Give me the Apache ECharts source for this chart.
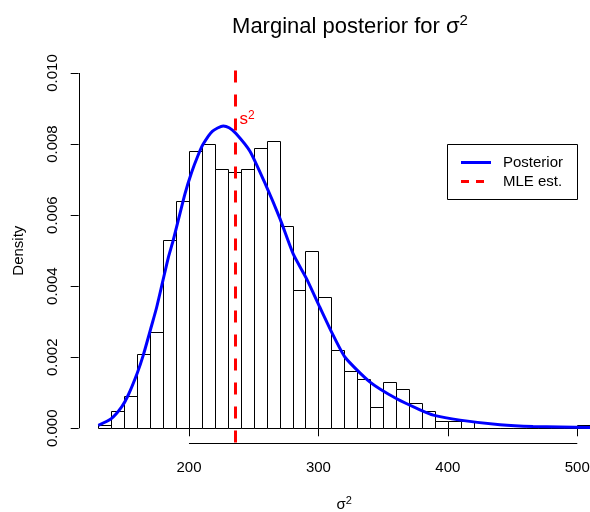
<!DOCTYPE html>
<html><head><meta charset="utf-8">
<script src="https://cdn.jsdelivr.net/npm/echarts@6/dist/echarts.min.js"></script>
<style>html,body{margin:0;padding:0;background:#fff}#c{width:590px;height:512px}</style>
</head><body><div id="c"></div>
<script>
// ---- data ----
const binEdges = [130,140,150,160,170,180,190,200,210,220,230,240,250,260,270,280,290,300,310,320,330,340,350,360,370,380,390,400,410,420,430,440,450,460,470,480,490,500,510];
const densities = [0.0001,0.0005,0.0009,0.0021,0.0027,0.0053,0.0064,0.0078,0.0080,0.0073,0.0072,0.0073,0.0079,0.0081,0.0057,0.0039,0.0050,0.0037,0.0022,0.0016,0.0014,0.0006,0.0013,0.0011,0.0007,0.0005,0.0002,0.0002,0.0002,0,0,0,0,0,0,0,0,0.0001];
const curveX = [130,140,148,153,160,164.7,171.2,175,179.5,184,187.9,196.9,202,207.2,211,218,226.5,231,236.3,247.1,258.7,270.3,280.6,291,301.2,310.3,320.6,339.9,360.5,378.5,388.8,409.4,440.3,465.8,510];
const curveY = [0.00008,0.00027,0.0006,0.00093,0.00155,0.00206,0.0029,0.0034,0.0041,0.0048,0.0053,0.0066,0.0072,0.0077,0.0080,0.00836,0.00851,0.00846,0.0083,0.0078,0.0069,0.0059,0.0049,0.0042,0.0034,0.0027,0.0020,0.0013,0.00083,0.00052,0.00037,0.00023,0.0001,0.00005,0.00002];
const mleEst = 236;
const s2LabelY = 0.0087;
const xTicks = [200,300,400,500];
const yTicks = [0,0.002,0.004,0.006,0.008,0.010];
const yTickLabels = ['0.000','0.002','0.004','0.006','0.008','0.010'];
const legendLabels = ['Posterior','MLE est.'];

// ---- chart ----
const FONT = "'Liberation Sans', Arial, Helvetica, sans-serif";
const xMin = 114.8, xMax = 525.2, yMin = -0.0004, yMax = 0.0104;
const chart = echarts.init(document.getElementById('c'), null, {renderer:'canvas'});
const histData = densities.map((d,i)=>[binEdges[i], binEdges[i+1], d]);
const curveData = curveX.map((x,i)=>[x, curveY[i]]);

const option = {
  animation:false,
  backgroundColor:'#ffffff',
  textStyle:{fontFamily:FONT},
  title:{
    text:'{t|Marginal posterior for σ}{s|2}',
    left:345, top:8, textAlign:'center',
    textStyle:{fontFamily:FONT, fontWeight:'normal', rich:{
      t:{fontSize:22, fontFamily:FONT, color:'#000', lineHeight:27},
      s:{fontSize:15, fontFamily:FONT, color:'#000', verticalAlign:'top', lineHeight:16}
    }}
  },
  grid:{left:78.7, top:58.8, width:531.2, height:383.7, show:false, containLabel:false, outerBoundsMode:'none'},
  xAxis:{
    type:'value', min:xMin, max:xMax,
    axisLine:{show:false}, splitLine:{show:false},
    axisTick:{show:true, customValues:xTicks, length:8, lineStyle:{color:'#000', width:1}},
    axisLabel:{show:true, customValues:xTicks, fontSize:15, color:'#000', margin:18, fontFamily:FONT},
    name:'{a|σ}{b|2}', nameLocation:'middle', nameGap:53,
    nameTextStyle:{color:'#000', rich:{
      a:{fontSize:15, fontFamily:FONT, color:'#000', lineHeight:18},
      b:{fontSize:11, fontFamily:FONT, color:'#000', verticalAlign:'top', lineHeight:12}
    }}
  },
  yAxis:{
    type:'value', min:yMin, max:yMax,
    axisLine:{show:false}, splitLine:{show:false},
    axisTick:{show:true, customValues:yTicks, length:8, lineStyle:{color:'#000', width:1}},
    axisLabel:{show:true, customValues:yTicks, rotate:90, fontSize:15, color:'#000', margin:18, fontFamily:FONT,
      formatter:(v)=>{let best=0;for(let i=0;i<yTicks.length;i++){if(Math.abs(yTicks[i]-v)<Math.abs(yTicks[best]-v))best=i;}return yTickLabels[best];}},
    name:'Density', nameLocation:'middle', nameRotate:90, nameGap:52,
    nameTextStyle:{fontSize:15, color:'#000', fontFamily:FONT}
  },
  series:[
    {
      type:'custom', name:'hist', z:1, data:histData,
      encode:{x:[0,1], y:2},
      renderItem:(params, api)=>{
        const p0 = api.coord([api.value(0), api.value(2)]);
        const p1 = api.coord([api.value(1), 0]);
        const x0 = Math.round(p0[0])+0.5, x1 = Math.round(p1[0])+0.5;
        const y0 = Math.round(p0[1])+0.5, y1 = Math.round(p1[1])+0.5;
        return {type:'rect', shape:{x:x0, y:y0, width:x1-x0, height:y1-y0},
          style:{fill:'#fff', stroke:'#000', lineWidth:1}};
      }
    },
    {
      type:'line', name:'Posterior', z:3, data:curveData, smooth:0.2, showSymbol:false, symbol:'none',
      lineStyle:{color:'#0000ff', width:3}, clip:false
    },
    {
      type:'line', name:'MLE', z:4, data:[], symbol:'none',
      markLine:{silent:true, symbol:['none','none'], label:{show:false},
        lineStyle:{color:'#ff0000', width:3, type:[12,12], cap:'butt'},
        data:[{xAxis:mleEst}]}
    }
  ]
};
chart.setOption(option);

const c = (pt)=>chart.convertToPixel({gridIndex:0}, pt);
const xa0 = c([xTicks[0], yMin]), xa1 = c([xTicks[xTicks.length-1], yMin]);
const ya0 = c([xMin, yTicks[0]]), ya1 = c([xMin, yTicks[yTicks.length-1]]);
const ps = c([mleEst, s2LabelY]);
const r = (v)=>Math.round(v)+0.5;

chart.setOption({
  graphic:[
    {type:'line', z:10, shape:{x1:xa0[0], y1:r(xa0[1]), x2:xa1[0], y2:r(xa1[1])}, style:{stroke:'#000', lineWidth:1}},
    {type:'line', z:10, shape:{x1:r(ya0[0]), y1:ya0[1], x2:r(ya1[0]), y2:ya1[1]}, style:{stroke:'#000', lineWidth:1}},
    {type:'text', z:10, x:ps[0]+4, y:ps[1], style:{text:'{a|s}{b|2}', fill:'#ff0000', verticalAlign:'middle', align:'left',
      rich:{a:{fontSize:17, fontFamily:FONT, fill:'#ff0000', lineHeight:19}, b:{fontSize:12, fontFamily:FONT, fill:'#ff0000', verticalAlign:'top', lineHeight:12}}}},
    {type:'group', z:10, children:[
      {type:'rect', shape:{x:447.5, y:144.5, width:130, height:55}, style:{fill:'#fff', stroke:'#000', lineWidth:1}},
      {type:'line', shape:{x1:461, y1:162.5, x2:491, y2:162.5}, style:{stroke:'#0000ff', lineWidth:3}},
      {type:'line', shape:{x1:461, y1:181.5, x2:491, y2:181.5}, style:{stroke:'#ff0000', lineWidth:3, lineDash:[8,7]}},
      {type:'text', x:503, y:162.5, style:{text:legendLabels[0], font:'15px '+FONT, fill:'#000', verticalAlign:'middle'}},
      {type:'text', x:503, y:181.5, style:{text:legendLabels[1], font:'15px '+FONT, fill:'#000', verticalAlign:'middle'}}
    ]}
  ]
});
</script></body></html>
